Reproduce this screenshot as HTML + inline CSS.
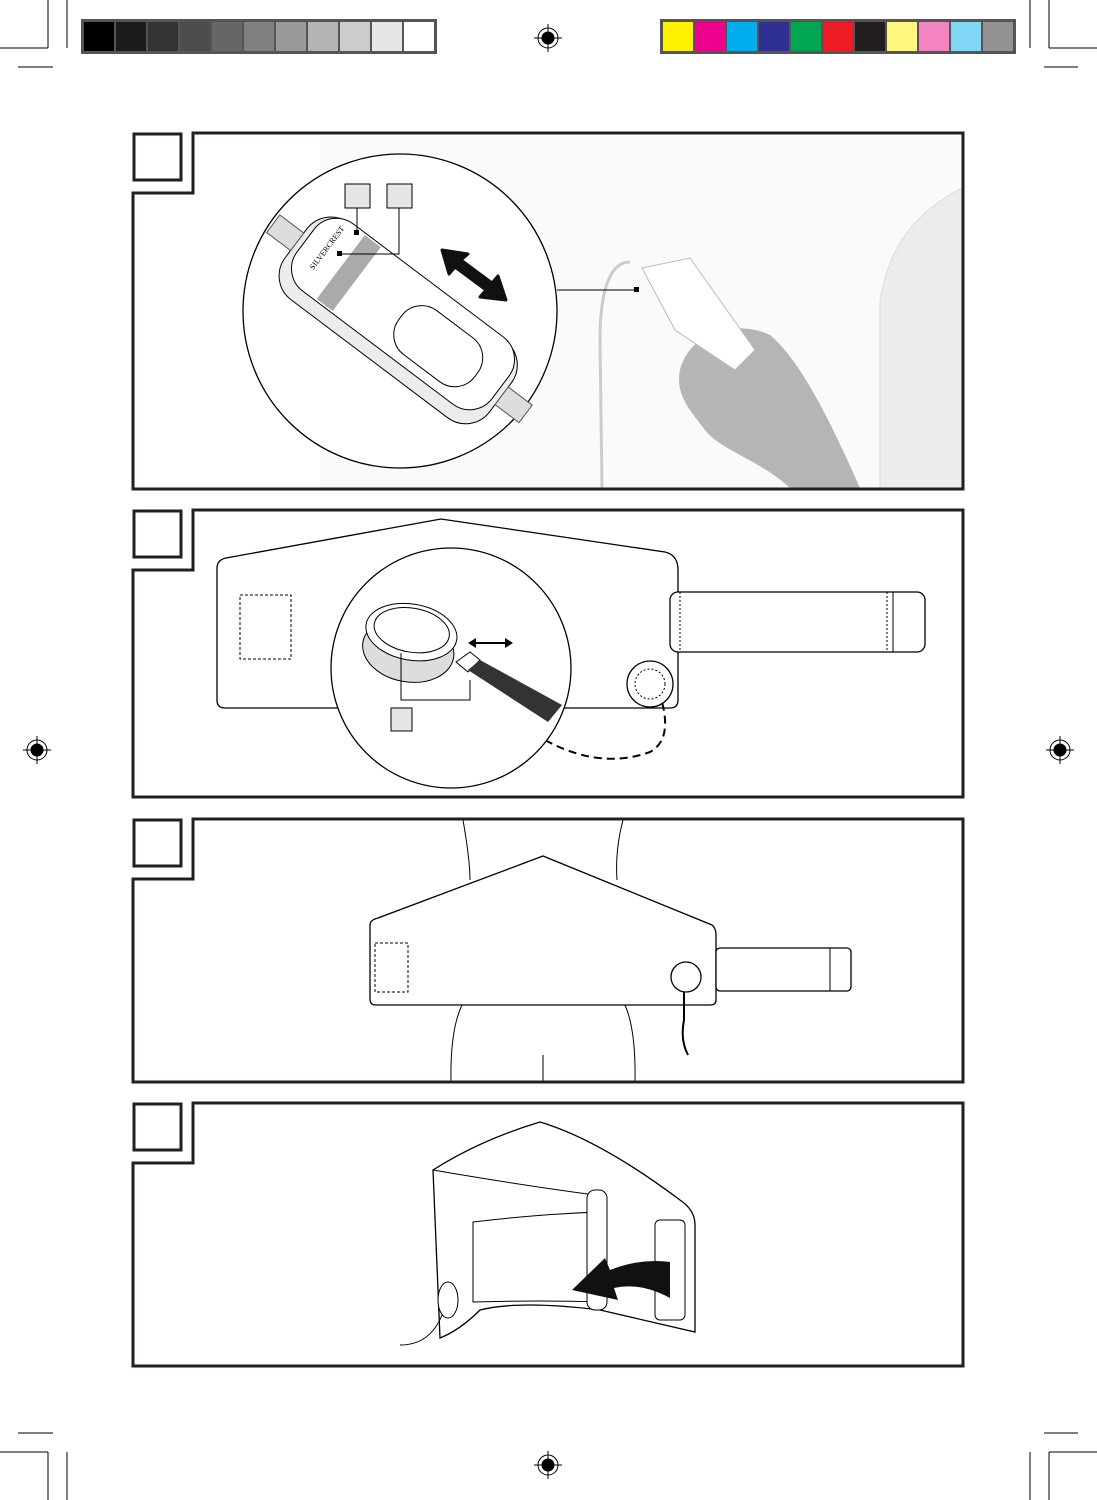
<!DOCTYPE html>
<html><head><meta charset="utf-8"><style>body{margin:0;background:#fff}svg{display:block}</style></head><body>
<svg width="1097" height="1500" viewBox="0 0 1097 1500" xmlns="http://www.w3.org/2000/svg" font-family="Liberation Sans, sans-serif">
<g stroke="#000" stroke-width="1">
<line x1="48" y1="0" x2="48" y2="48"/><line x1="0" y1="48" x2="48" y2="48"/><line x1="67" y1="0" x2="67" y2="48"/><line x1="18" y1="67" x2="53" y2="67"/>
<line x1="1049" y1="0" x2="1049" y2="48"/><line x1="1049" y1="48" x2="1097" y2="48"/><line x1="1030" y1="0" x2="1030" y2="48"/><line x1="1044" y1="67" x2="1078" y2="67"/>
<line x1="48" y1="1452" x2="48" y2="1500"/><line x1="0" y1="1452" x2="48" y2="1452"/><line x1="67" y1="1452" x2="67" y2="1500"/><line x1="18" y1="1433" x2="53" y2="1433"/>
<line x1="1049" y1="1452" x2="1049" y2="1500"/><line x1="1049" y1="1452" x2="1097" y2="1452"/><line x1="1030" y1="1452" x2="1030" y2="1500"/><line x1="1044" y1="1433" x2="1078" y2="1433"/>
</g>
<rect x="81" y="19" width="356" height="35" fill="#555"/>
<g>
<rect x="84" y="22" width="30" height="29" fill="#000"/><rect x="116" y="22" width="30" height="29" fill="#1c1c1c"/><rect x="148" y="22" width="30" height="29" fill="#333"/><rect x="180" y="22" width="30" height="29" fill="#4d4d4d"/><rect x="212" y="22" width="30" height="29" fill="#666"/><rect x="244" y="22" width="30" height="29" fill="#808080"/><rect x="276" y="22" width="30" height="29" fill="#999"/><rect x="308" y="22" width="30" height="29" fill="#b3b3b3"/><rect x="340" y="22" width="30" height="29" fill="#ccc"/><rect x="372" y="22" width="30" height="29" fill="#e6e6e6"/><rect x="404" y="22" width="30" height="29" fill="#fff"/>
</g>
<rect x="660" y="19" width="356" height="35" fill="#555"/>
<g>
<rect x="663" y="22" width="30" height="29" fill="#fff200"/><rect x="695" y="22" width="30" height="29" fill="#ec008c"/><rect x="727" y="22" width="30" height="29" fill="#00aeef"/><rect x="759" y="22" width="30" height="29" fill="#2e3192"/><rect x="791" y="22" width="30" height="29" fill="#00a651"/><rect x="823" y="22" width="30" height="29" fill="#ed1c24"/><rect x="855" y="22" width="30" height="29" fill="#231f20"/><rect x="887" y="22" width="30" height="29" fill="#fff67f"/><rect x="919" y="22" width="30" height="29" fill="#f483c2"/><rect x="951" y="22" width="30" height="29" fill="#7fd6f7"/><rect x="983" y="22" width="30" height="29" fill="#939393"/>
</g>
<g fill="none" stroke="#000">
<circle cx="548" cy="38" r="10"/><circle cx="548" cy="38" r="6" fill="#000"/><line x1="534" y1="38" x2="562" y2="38"/><line x1="548" y1="24" x2="548" y2="52"/>
<circle cx="548" cy="1465" r="10"/><circle cx="548" cy="1465" r="6" fill="#000"/><line x1="534" y1="1465" x2="562" y2="1465"/><line x1="548" y1="1451" x2="548" y2="1479"/>
<circle cx="37" cy="750" r="10"/><circle cx="37" cy="750" r="6" fill="#000"/><line x1="23" y1="750" x2="51" y2="750"/><line x1="37" y1="736" x2="37" y2="764"/>
<circle cx="1060" cy="750" r="10"/><circle cx="1060" cy="750" r="6" fill="#000"/><line x1="1046" y1="750" x2="1074" y2="750"/><line x1="1060" y1="736" x2="1060" y2="764"/>
</g>

<!-- PANEL 1 -->
<rect x="320" y="135" width="642" height="353" fill="#fafafa"/>
<path d="M962 188 C920 210 890 240 880 300 L880 488 L962 488 Z" fill="#ececec" stroke="#ddd"/>
<path d="M680 370 C690 330 740 320 770 335 C800 360 830 420 860 488 L790 488 C760 460 720 450 705 430 C690 410 675 395 680 370 Z" fill="#b5b5b5"/>
<path d="M642 268 L690 258 L755 350 L735 370 L675 330 Z" fill="#fff" stroke="#bbb"/>
<path d="M630 262 C610 262 600 290 600 340 L602 488" fill="none" stroke="#ccc" stroke-width="3"/>
<line x1="557" y1="290" x2="637" y2="290" stroke="#000"/><rect x="634" y="287" width="5" height="5" fill="#000"/>
<circle cx="400" cy="311" r="157" fill="#fff" stroke="#000" stroke-width="1.3"/>
<g transform="rotate(37 400 318)">
<rect x="272" y="273" width="256" height="96" rx="30" fill="#ececec" stroke="#000"/>
<rect x="278" y="271" width="244" height="84" rx="28" fill="#fff" stroke="#000"/>
<rect x="322" y="273" width="20" height="80" fill="#aaa"/>
<rect x="400" y="290" width="95" height="55" rx="25" fill="#fff" stroke="#000"/>
<rect x="242" y="308" width="30" height="22" fill="#ddd" stroke="#555"/>
<rect x="528" y="308" width="30" height="22" fill="#ddd" stroke="#555"/>
<text x="302" y="332" font-size="8" font-family="Liberation Serif, serif" transform="rotate(-90 302 332)">SILVERCREST</text>
</g>
<g fill="#e6e6e6" stroke="#000">
<rect x="345" y="184" width="25" height="24"/><rect x="387" y="184" width="25" height="24"/>
</g>
<line x1="357" y1="208" x2="357" y2="232" stroke="#000"/><rect x="354" y="230" width="5" height="5" fill="#000"/>
<polyline points="399,208 399,254 340,254" fill="none" stroke="#000"/><rect x="337" y="251" width="5" height="5" fill="#000"/>
<path d="M442 250 L468 254 L461 260 L492 283 L498 276 L506 300 L480 297 L486 290 L455 267 L449 274 Z" fill="#111" stroke="#111" stroke-width="3" stroke-linejoin="round"/>
<path d="M193 133 H963 V489 H133 V193 H193 Z" fill="none" stroke="#231f20" stroke-width="3"/>
<rect x="134" y="134" width="47" height="46" fill="#fff" stroke="#231f20" stroke-width="3"/>

<!-- PANEL 2 -->
<path d="M217 568 Q217 560 226 558 L441 519 L665 552 Q678 555 678 570 L678 700 Q678 708 670 708 L225 708 Q217 708 217 700 Z" fill="#fff" stroke="#000" stroke-width="1.3"/>
<rect x="240" y="595" width="51" height="64" fill="none" stroke="#000" stroke-dasharray="3,2"/>
<rect x="670" y="592" width="255" height="60" rx="8" fill="#fff" stroke="#000" stroke-width="1.3"/>
<line x1="680" y1="592" x2="680" y2="652" stroke="#000" stroke-dasharray="2,2"/>
<line x1="887" y1="592" x2="887" y2="652" stroke="#000" stroke-dasharray="2,2"/><line x1="893" y1="592" x2="893" y2="652" stroke="#000"/>
<circle cx="650" cy="684" r="23" fill="#fff" stroke="#000" stroke-width="1.3"/>
<circle cx="650" cy="684" r="15" fill="none" stroke="#000" stroke-dasharray="2,2"/>
<path d="M545 740 Q600 770 650 752 Q672 740 662 702" fill="none" stroke="#000" stroke-width="2" stroke-dasharray="8,5"/>
<circle cx="451" cy="668" r="120" fill="#fff" stroke="#000" stroke-width="1.3"/>
<g transform="rotate(10 410 640)">
<ellipse cx="410" cy="650" rx="46" ry="32" fill="#ddd" stroke="#000"/>
<ellipse cx="410" cy="632" rx="46" ry="28" fill="#fff" stroke="#000"/>
<ellipse cx="410" cy="630" rx="38" ry="22" fill="none" stroke="#000"/>
</g>
<path d="M456 662 L470 652 L480 660 L468 672 Z" fill="#fff" stroke="#000"/>
<path d="M468 670 L480 660 L562 705 L548 722 Z" fill="#333"/>
<line x1="471" y1="643" x2="510" y2="643" stroke="#000" stroke-width="2"/>
<path d="M468 643 l8 -5 v10 z M513 643 l-8 -5 v10 z" fill="#000"/>
<polyline points="401,653 401,700 470,700 470,680" fill="none" stroke="#000"/>
<rect x="391" y="708" width="21" height="23" fill="#e6e6e6" stroke="#000"/>
<path d="M193 510 H963 V797 H133 V570 H193 Z" fill="none" stroke="#231f20" stroke-width="3"/>
<rect x="134" y="511" width="47" height="46" fill="#fff" stroke="#231f20" stroke-width="3"/>

<!-- PANEL 3 -->
<path d="M463 820 Q470 860 470 880" fill="none" stroke="#000"/>
<path d="M623 820 Q615 850 617 880" fill="none" stroke="#000"/>
<path d="M451 1082 Q450 1030 462 1005" fill="none" stroke="#000"/>
<path d="M635 1082 Q636 1030 625 1005" fill="none" stroke="#000"/>
<line x1="543" y1="1055" x2="543" y2="1082" stroke="#000"/>
<path d="M370 925 Q370 920 378 918 L543 856 L712 925 Q716 928 716 935 L716 1000 Q716 1005 710 1005 L376 1005 Q370 1005 370 999 Z" fill="#fff" stroke="#000" stroke-width="1.3"/>
<rect x="375" y="943" width="33" height="49" fill="none" stroke="#000" stroke-dasharray="3,2"/>
<rect x="716" y="948" width="135" height="43" rx="4" fill="#fff" stroke="#000" stroke-width="1.3"/>
<line x1="830" y1="948" x2="830" y2="991" stroke="#000"/>
<circle cx="686" cy="977" r="15" fill="#fff" stroke="#000" stroke-width="1.3"/>
<path d="M684 992 L684 1020 Q680 1040 688 1055" fill="none" stroke="#000" stroke-width="2"/>
<path d="M193 819 H963 V1082 H133 V879 H193 Z" fill="none" stroke="#231f20" stroke-width="3"/>
<rect x="134" y="820" width="47" height="46" fill="#fff" stroke="#231f20" stroke-width="3"/>

<!-- PANEL 4 -->
<path d="M433 1170 Q480 1140 540 1122 Q600 1140 680 1200 Q695 1210 695 1225 L695 1332 L600 1310 Q520 1300 480 1310 Q460 1330 440 1338 L433 1170 Z" fill="#fff" stroke="#000" stroke-width="1.3"/>
<path d="M433 1170 Q520 1185 595 1195" fill="none" stroke="#000"/>
<path d="M473 1222 Q540 1214 600 1212 L600 1302 Q540 1300 473 1302 Z" fill="#fff" stroke="#000"/>
<rect x="587" y="1190" width="20" height="120" rx="8" fill="#fff" stroke="#000"/>
<rect x="655" y="1220" width="30" height="100" rx="5" fill="#fff" stroke="#000"/>
<path d="M670 1262 Q640 1258 610 1270 L605 1258 L572 1290 L618 1300 L614 1288 Q640 1282 670 1298 Z" fill="#111"/>
<ellipse cx="448" cy="1300" rx="10" ry="18" fill="#fff" stroke="#000"/>
<path d="M442 1315 Q430 1345 400 1345" fill="none" stroke="#000"/>
<path d="M193 1103 H963 V1366 H133 V1163 H193 Z" fill="none" stroke="#231f20" stroke-width="3"/>
<rect x="134" y="1104" width="47" height="46" fill="#fff" stroke="#231f20" stroke-width="3"/>
</svg>
</body></html>
